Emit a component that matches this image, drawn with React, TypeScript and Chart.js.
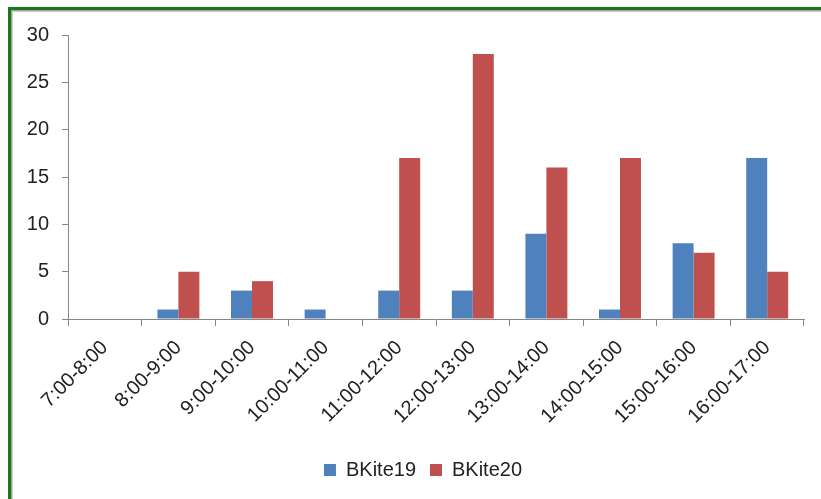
import React, { useEffect, useRef } from "react";
import { Chart, registerables } from "chart.js";

Chart.register(...registerables);

const categories = [
  "7:00-8:00",
  "8:00-9:00",
  "9:00-10:00",
  "10:00-11:00",
  "11:00-12:00",
  "12:00-13:00",
  "13:00-14:00",
  "14:00-15:00",
  "15:00-16:00",
  "16:00-17:00",
];
const bkite19 = [0, 1, 3, 1, 3, 3, 9, 1, 8, 17];
const bkite20 = [0, 5, 4, 0, 17, 28, 16, 17, 7, 5];
const yMin = 0;
const yMax = 30;
const yStep = 5;

const FONT = "'Liberation Sans', Arial, sans-serif";

const shiftLegend = {
  id: "shiftLegend",
  afterLayout(chart: any) {
    const lg = chart.legend;
    if (lg) {
      lg.left += 21;
      lg.right += 21;
    }
  },
};

export default function App() {
  const ref = useRef<HTMLCanvasElement | null>(null);

  useEffect(() => {
    document.body.style.overflow = "hidden";
    document.documentElement.style.overflow = "hidden";
    const canvas = ref.current;
    if (!canvas) return;
    const chart = new Chart(canvas, {
      type: "bar",
      data: {
        labels: categories,
        datasets: [
          { label: "BKite19", data: bkite19, backgroundColor: "#4F81BD", borderWidth: 0 },
          { label: "BKite20", data: bkite20, backgroundColor: "#C0504D", borderWidth: 0 },
        ],
      },
      plugins: [shiftLegend],
      options: {
        animation: false,
        responsive: false,
        maintainAspectRatio: false,
        layout: { padding: { left: 0, right: 17, top: 35, bottom: 9 } },
        datasets: {
          bar: { categoryPercentage: 0.57, barPercentage: 1.0 },
        },
        plugins: {
          tooltip: { enabled: false },
          legend: {
            position: "bottom",
            labels: {
              boxWidth: 12,
              boxHeight: 12,
              padding: 14,
              color: "#222",
              font: { family: FONT, size: 20 },
            },
          },
        },
        scales: {
          x: {
            grid: {
              drawOnChartArea: false,
              drawTicks: true,
              tickLength: 7,
              color: "#868686",
              offset: true,
            },
            border: { color: "#868686", width: 1 },
            ticks: {
              color: "#222",
              font: { family: FONT, size: 20 },
              minRotation: 45,
              maxRotation: 45,
              padding: 10,
              autoSkip: false,
            },
            afterFit: (scale: any) => {
              scale.height = 127;
            },
          },
          y: {
            min: yMin,
            max: yMax,
            grid: {
              drawOnChartArea: false,
              drawTicks: true,
              tickLength: 6,
              color: "#868686",
            },
            border: { color: "#868686", width: 1 },
            ticks: {
              stepSize: yStep,
              color: "#222",
              font: { family: FONT, size: 20 },
              padding: 13,
            },
            afterFit: (scale: any) => {
              scale.width = 68;
            },
          },
        },
      },
    });
    return () => chart.destroy();
  }, []);

  return (
    <div>
      <div style={{ position: "fixed", left: 0, top: 0, width: 821, height: 499, background: "#fff" }}>
        <canvas ref={ref} width={821} height={499} style={{ width: 821, height: 499, display: "block" }} />
      </div>
      <div
        style={{
          position: "fixed",
          left: 8,
          top: 7,
          width: 900,
          height: 600,
          borderTop: "3px solid #177a17",
          borderLeft: "3px solid #177a17",
          boxShadow: "inset 1px 1px 0 #a0a0a0, inset 2px 2px 0 #d0d0d0",
          pointerEvents: "none",
        }}
      />
    </div>
  );
}
